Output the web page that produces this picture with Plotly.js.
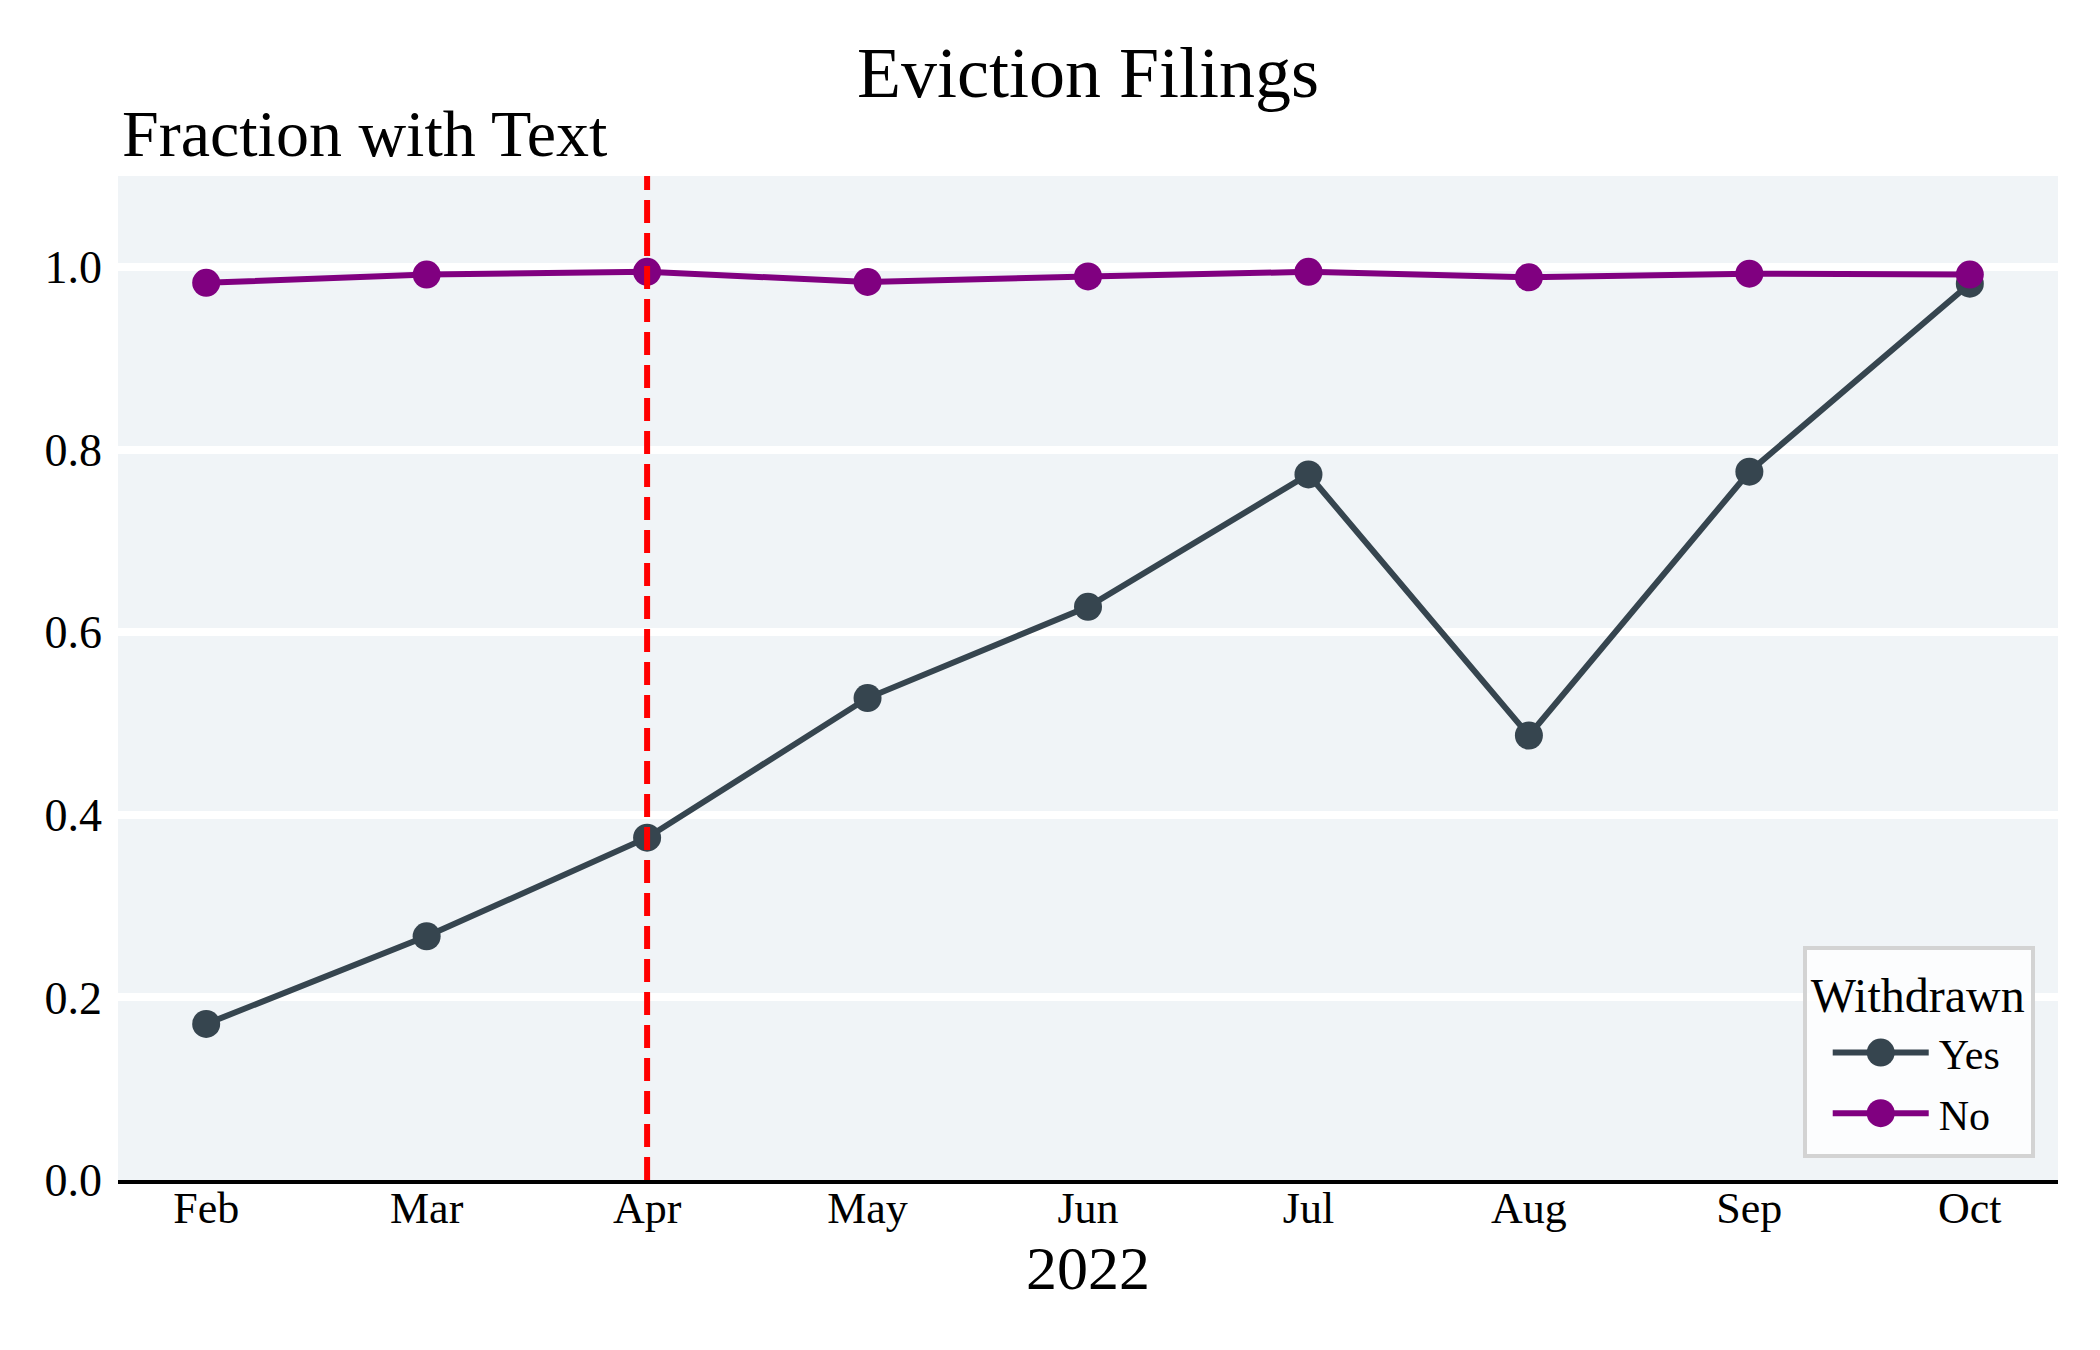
<!DOCTYPE html>
<html>
<head>
<meta charset="utf-8">
<script src="https://cdn.plot.ly/plotly-3.0.1.min.js"></script>
<style>
  html, body { margin: 0; padding: 0; background: #ffffff; overflow: hidden; }
  #wrap { width: 2100px; height: 1350px; position: relative; overflow: hidden; }
  #plot { width: 1050px; height: 675px; transform: scale(2); transform-origin: 0 0; position: absolute; left: 0; top: 0; }
</style>
</head>
<body>
<div id="wrap"><div id="plot"></div></div>
<script>
// ---- data ----
const months = ['Feb', 'Mar', 'Apr', 'May', 'Jun', 'Jul', 'Aug', 'Sep', 'Oct'];
const yesValues = [0.171, 0.267, 0.375, 0.528, 0.628, 0.773, 0.487, 0.776, 0.982];
const noValues = [0.983, 0.992, 0.995, 0.984, 0.990, 0.995, 0.989, 0.993, 0.992];
const seriesNames = ['Yes', 'No'];
const yTickValues = [0, 0.2, 0.4, 0.6, 0.8, 1.0];
const yTickLabels = ['0.0', '0.2', '0.4', '0.6', '0.8', '1.0'];
const markerMonth = 'Apr';
const titleText = 'Eviction Filings';
const subtitleText = 'Fraction with Text';
const xTitleText = '2022';
const legendTitleText = 'Withdrawn';

const FONT = '"Liberation Serif", "DejaVu Serif", serif';

const traces = [
  {
    x: months, y: yesValues, name: seriesNames[0], type: 'scatter', mode: 'lines+markers',
    line: {color: '#36454F', width: 3},
    marker: {color: '#36454F', size: 14}
  },
  {
    x: months, y: noValues, name: seriesNames[1], type: 'scatter', mode: 'lines+markers',
    line: {color: '#800080', width: 3},
    marker: {color: '#800080', size: 14}
  }
];

const layout = {
  width: 1050, height: 675,
  margin: {l: 59, r: 21, t: 87.5, b: 85, pad: 0},
  paper_bgcolor: '#ffffff',
  plot_bgcolor: '#F0F4F7',
  font: {family: FONT, color: '#000000', size: 21},
  title: {
    text: titleText,
    font: {family: FONT, size: 36, color: '#000000'},
    x: 0.5, xref: 'paper', xanchor: 'center',
    y: 0.9468, yref: 'container', yanchor: 'middle'
  },
  xaxis: {
    type: 'category',
    categoryorder: 'array', categoryarray: months,
    range: [-0.4, 8.4],
    showgrid: false,
    showline: true, linecolor: '#000000', linewidth: 2,
    ticks: '',
    zeroline: false,
    ticklabelstandoff: -7,
    tickfont: {family: FONT, size: 22, color: '#000000'},
    title: {text: xTitleText, standoff: 7, font: {family: FONT, size: 31, color: '#000000'}}
  },
  yaxis: {
    range: [0, 1.1],
    tickvals: yTickValues, ticktext: yTickLabels,
    showgrid: true, gridcolor: '#ffffff', gridwidth: 4,
    zeroline: false, showline: false, ticks: '',
    ticklabelstandoff: 7,
    tickfont: {family: FONT, size: 23, color: '#000000'}
  },
  legend: {
    x: 0.988, xanchor: 'right', xref: 'paper',
    y: 0.022, yanchor: 'bottom', yref: 'paper',
    bgcolor: 'rgba(255,255,255,0.8)',
    bordercolor: '#D3D3D3', borderwidth: 2,
    font: {family: FONT, size: 21, color: '#000000'},
    title: {text: legendTitleText, font: {family: FONT, size: 24, color: '#000000'}},
    itemwidth: 48,
    indentation: 8
  },
  shapes: [{
    type: 'line', layer: 'above',
    xref: 'x', x0: months.indexOf(markerMonth), x1: months.indexOf(markerMonth),
    yref: 'paper', y0: 0, y1: 1,
    line: {color: '#FF0000', width: 3, dash: '11.5px,5px'}
  }],
  annotations: [{
    text: subtitleText, showarrow: false,
    xref: 'paper', x: 0, xanchor: 'left',
    yref: 'paper', y: 1, yanchor: 'bottom', yshift: 1,
    font: {family: FONT, size: 33, color: '#000000'}
  }]
};

Plotly.newPlot('plot', traces, layout, {displayModeBar: false, staticPlot: true});
</script>
</body>
</html>
